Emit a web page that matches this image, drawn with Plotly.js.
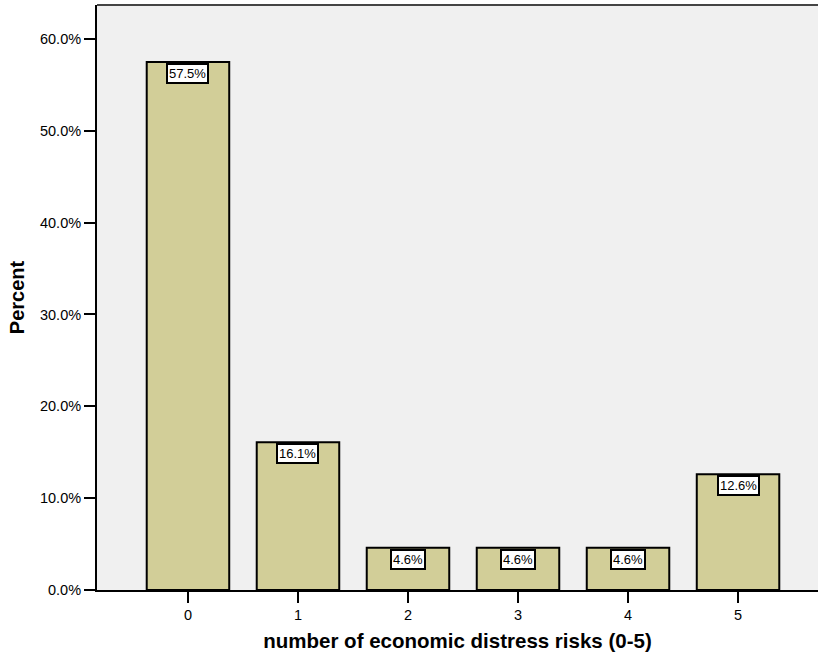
<!DOCTYPE html>
<html>
<head>
<meta charset="utf-8">
<script src="https://cdn.plot.ly/plotly-3.0.1.min.js"></script>
<style>html,body{margin:0;padding:0;background:#fff;}#chart{width:819px;height:656px;}</style>
</head>
<body>
<div id="chart"></div>
<script>
var categories = ["0", "1", "2", "3", "4", "5"];
var percents = [57.5, 16.1, 4.6, 4.6, 4.6, 12.6];
var yTicks = [0, 10, 20, 30, 40, 50, 60];

var annotations = categories.map(function (c, i) {
  return {
    x: i, y: percents[i], xref: 'x', yref: 'y',
    text: percents[i].toFixed(1) + '%',
    showarrow: false, yanchor: 'top', yshift: -1,
    font: {family: 'Liberation Sans, Arial, sans-serif', size: 13, color: '#000'},
    bgcolor: '#ffffff', bordercolor: '#000000', borderwidth: 2, borderpad: 1
  };
});

var trace = {
  type: 'bar',
  x: categories.map(function (c, i) { return i; }),
  y: percents,
  width: 0.75,
  marker: {color: '#D2CE98', line: {color: '#000000', width: 2}},
  hoverinfo: 'none'
};

var layout = {
  width: 819, height: 656,
  margin: {l: 97, r: 1, t: 5, b: 66},
  paper_bgcolor: '#ffffff',
  plot_bgcolor: '#F0F0F0',
  showlegend: false,
  font: {family: 'Liberation Sans, Arial, sans-serif', size: 14, color: '#000'},
  xaxis: {
    range: [-0.827, 5.727],
    tickmode: 'array', tickvals: categories.map(function (c, i) { return i; }), ticktext: categories,
    ticks: 'outside', ticklen: 11, tickwidth: 2, tickcolor: '#000',
    showline: true, linecolor: '#000', linewidth: 2,
    showgrid: false, zeroline: false,
    tickfont: {size: 14.5},
    title: {text: 'number of economic distress risks (0-5)', font: {size: 20.5, weight: 'bold'}, standoff: 11}
  },
  yaxis: {
    range: [0, 63.7],
    tickmode: 'array', tickvals: yTicks,
    ticktext: yTicks.map(function (v) { return v.toFixed(1) + '%'; }),
    ticks: 'outside', ticklen: 11, tickwidth: 2, tickcolor: '#000',
    showline: true, linecolor: '#000', linewidth: 2,
    showgrid: false, zeroline: false,
    tickfont: {size: 14.5},
    title: {text: 'Percent', font: {size: 20, weight: 'bold'}, standoff: 10}
  },
  shapes: [{
    type: 'line', xref: 'paper', yref: 'paper', x0: 0, x1: 1, y0: 1, y1: 1,
    line: {color: '#444444', width: 2}
  }],
  annotations: annotations
};

Plotly.newPlot('chart', [trace], layout, {displayModeBar: false, staticPlot: true});
</script>
</body>
</html>
